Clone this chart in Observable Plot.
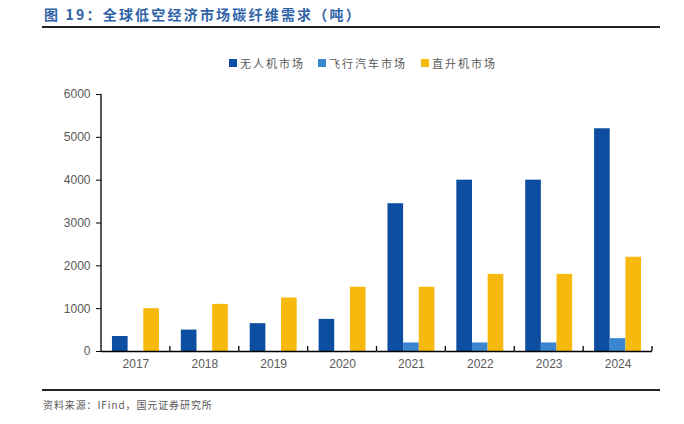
<!DOCTYPE html>
<html><head><meta charset="utf-8">
<script src="https://cdn.jsdelivr.net/npm/d3@7"></script>
<script src="https://cdn.jsdelivr.net/npm/@observablehq/plot@0.6"></script>
<style>
body{margin:0;background:#fff;width:684px;height:424px;position:relative;overflow:hidden;font-family:"Liberation Sans",Arial,sans-serif;}
#title{position:absolute;left:44px;top:4px;font-family:"Noto Sans CJK SC",sans-serif;font-weight:bold;font-size:14px;color:#2f63a8;letter-spacing:2.2px;white-space:nowrap;}
#rule1{position:absolute;left:42px;top:26px;width:618px;height:2px;background:#222;}
#legend{position:absolute;left:0;top:55px;width:684px;font-family:"Noto Sans CJK SC",sans-serif;font-size:11px;color:#595959;letter-spacing:2px;white-space:nowrap;}
.li{position:absolute;top:0;display:flex;align-items:center;height:16px;}
.sw{width:8px;height:8px;margin-right:3px;}
#chart{position:absolute;left:0;top:80px;}
#rule2{position:absolute;left:42px;top:389px;width:618px;height:1.5px;background:#222;}
#source{position:absolute;left:43px;top:397px;font-family:"Noto Sans CJK SC",sans-serif;font-size:10px;color:#595959;letter-spacing:0.9px;white-space:nowrap;}
</style></head>
<body>
<div id="title">图 19：全球低空经济市场碳纤维需求（吨）</div>
<div id="rule1"></div>
<div id="legend"></div>
<div id="chart"></div>
<div id="rule2"></div>
<div id="source">资料来源：IFind，国元证券研究所</div>
<script>
const years = ["2017","2018","2019","2020","2021","2022","2023","2024"];
const seriesNames = ["无人机市场","飞行汽车市场","直升机市场"];
const colors = ["#0d4ea1","#3a87d0","#f8b90f"];
const droneValues = [350,500,650,750,3450,4000,4000,5200];
const carValues = [0,0,0,0,200,200,200,300];
const heliValues = [1000,1100,1250,1500,1500,1800,1800,2200];
const yTicks = [0,1000,2000,3000,4000,5000,6000];

const allValues = [droneValues, carValues, heliValues];
const data = [];
years.forEach((y,i)=>seriesNames.forEach((s,j)=>data.push({year:y, series:s, value:allValues[j][i]})));

// legend
const legendX = [229, 318, 421];
const lg = document.getElementById("legend");
seriesNames.forEach((s,i)=>{
  const d = document.createElement("div");
  d.className="li"; d.style.left = legendX[i]+"px";
  d.innerHTML = `<div class="sw" style="background:${colors[i]}"></div><span>${s}</span>`;
  lg.appendChild(d);
});

const plot = Plot.plot({
  width: 684, height: 296,
  marginLeft: 101, marginRight: 32, marginTop: 14, marginBottom: 25,
  style:{fontFamily:"Liberation Sans, Arial, sans-serif", fontSize:"12px", color:"#595959", background:"#fff"},
  fx:{domain: years, padding:0, label:null, axis:null, round:false},
  x:{domain: seriesNames, paddingInner:0, paddingOuter:0.7, axis:null, round:false},
  y:{domain:[0,6000], ticks: yTicks, label:null, grid:false},
  color:{domain: seriesNames, range: colors},
  marks:[
    Plot.axisY({ticks: yTicks, tickSize:5, tickPadding:6, tickFormat:d=>String(d), fontSize:12, label:null, stroke:"#000"}),
    Plot.barY(data, {fx:"year", x:"series", y:"value", fill:"series"}),
    Plot.ruleY([0], {stroke:"#000", strokeWidth:1.3}),
    Plot.axisFx({anchor:"bottom", tickSize:0, tickPadding:8, fontSize:12, label:null})
  ]
});
document.getElementById("chart").appendChild(plot);

// axis line and boundary ticks from the library's scales
const fx = plot.scale("fx"), y = plot.scale("y");
const svg = d3.select(plot);
const y0 = y.apply(0), yTop = y.apply(6000);
const left = fx.apply(years[0]);
svg.append("line").attr("x1",left).attr("x2",left).attr("y1",yTop).attr("y2",y0).attr("stroke","#000").attr("stroke-width",1.3);
const bounds = years.map(v=>fx.apply(v)).concat([fx.apply(years[years.length-1]) + fx.bandwidth]);
svg.append("g").selectAll("line").data(bounds.slice(1)).join("line")
  .attr("x1",d=>d).attr("x2",d=>d).attr("y1",y0).attr("y2",y0-5).attr("stroke","#000").attr("stroke-width",1.3);
</script>
</body></html>
